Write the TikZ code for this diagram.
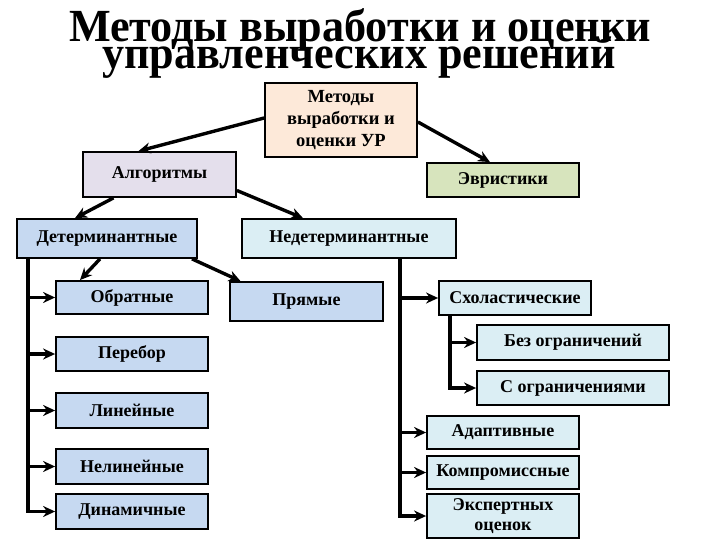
\documentclass[tikz,border=0pt]{standalone}
\usepackage{fontspec}
\setmainfont{Liberation Serif}
\usetikzlibrary{arrows.meta}
\definecolor{peach}{HTML}{FDE9D9}
\definecolor{lav}{HTML}{E4DFEC}
\definecolor{olive}{HTML}{D7E4BD}
\definecolor{blu}{HTML}{C6D9F1}
\definecolor{aqua}{HTML}{DBEEF4}
\begin{document}
\begin{tikzpicture}[x=1pt,y=-1pt,
  bx/.style={draw=black, line width=1.8pt, inner sep=1pt, font=\fontsize{18}{20}\selectfont\bfseries, align=center},
  arr/.style={line width=3.4pt, -{Stealth[length=12pt,width=11pt]}},
  ttl/.style={font=\fontsize{46}{46}\selectfont\bfseries, anchor=base, inner sep=0pt}
]
\useasboundingbox (0,0) rectangle (720,540);
\fill[white] (0,0) rectangle (720,540);
% title
\node[ttl] (t1) at (360,42) {\scalebox{0.96}[1]{Методы выработки и оценки}};
\node[ttl] (t2) at (359,69) {\scalebox{0.96}[1]{управленческих решений}};
% boxes
\node[bx, fill=peach, minimum width=152pt, minimum height=74pt, font=\fontsize{18.5}{22}\selectfont\bfseries] (root) at (341,120) {Методы\\выработки и\\оценки УР};
\node[bx, fill=lav, minimum width=153pt, minimum height=45pt] (alg) at (159.5,174.5) {Алгоритмы};
\node[bx, fill=olive, minimum width=152pt, minimum height=34pt] (evr) at (503,180) {Эвристики};
\node[bx, fill=blu, minimum width=180pt, minimum height=39pt] (det) at (107,238.5) {Детерминантные};
\node[bx, fill=aqua, minimum width=214pt, minimum height=39pt] (nedet) at (349,238.5) {Недетерминантные};
\node[bx, fill=blu, minimum width=152pt, minimum height=33pt] (obr) at (132,297.5) {Обратные};
\node[bx, fill=blu, minimum width=153pt, minimum height=39pt] (pryam) at (306.5,301.5) {Прямые};
\node[bx, fill=aqua, minimum width=152pt, minimum height=34pt] (sxol) at (515,298) {Схоластические};
\node[bx, fill=aqua, minimum width=192pt, minimum height=35pt] (bez) at (573,342.5) {Без ограничений};
\node[bx, fill=aqua, minimum width=192pt, minimum height=34pt] (sogr) at (573,388) {С ограничениями};
\node[bx, fill=blu, minimum width=152pt, minimum height=34pt] (perebor) at (132,354) {Перебор};
\node[bx, fill=blu, minimum width=152pt, minimum height=35pt] (lin) at (132,410.5) {Линейные};
\node[bx, fill=blu, minimum width=152pt, minimum height=35pt] (nelin) at (132,466.5) {Нелинейные};
\node[bx, fill=blu, minimum width=152pt, minimum height=35pt] (dinam) at (132,511.5) {Динамичные};
\node[bx, fill=aqua, minimum width=152pt, minimum height=33pt] (adapt) at (503,432.5) {Адаптивные};
\node[bx, fill=aqua, minimum width=152pt, minimum height=33pt] (komp) at (503,472.5) {Компромиссные};
\node[bx, fill=aqua, minimum width=152pt, minimum height=44pt, font=\fontsize{18}{20}\selectfont\bfseries] (exp) at (503,516) {Экспертных\\оценок};
% diagonal arrows
\draw[arr] ([yshift=2pt]root.west) -- ([xshift=-21pt]alg.north);
\draw[arr] ([yshift=-2pt]root.east) -- ([xshift=-13pt]evr.north);
\draw[arr] ([xshift=-46pt]alg.south) -- ([xshift=-32pt]det.north);
\draw[arr] ([yshift=-16pt]alg.east) -- ([xshift=-46pt]nedet.north);
\draw[arr] ([xshift=-7pt]det.south) -- ([xshift=-52pt]obr.north);
\draw[arr] ([xshift=85pt]det.south) -- ([xshift=-66pt]pryam.north);
% trunks
\coordinate (dt) at ([xshift=-79pt]det.south);
\coordinate (nt) at ([xshift=51pt]nedet.south);
\coordinate (st) at ([xshift=-65pt]sxol.south);
\foreach \n in {obr,perebor,lin,nelin,dinam} \draw[arr] (dt) |- (\n.west);
\foreach \n in {sxol,adapt,komp,exp} \draw[arr] (nt) |- (\n.west);
\foreach \n in {bez,sogr} \draw[arr] (st) |- (\n.west);
\end{tikzpicture}
\end{document}
